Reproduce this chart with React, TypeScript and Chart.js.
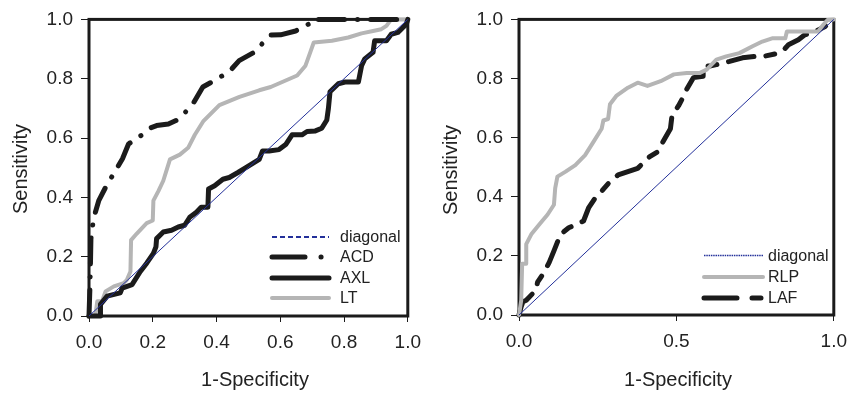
import React, { useEffect, useRef } from "react";
import { Chart, registerables } from "chart.js";

Chart.register(...registerables);

// ---------- Data ----------
const DIAG_X = [0, 1];
const DIAG_Y = [0, 1];

const ACD_X = [0, 0.003, 0.005, 0.006, 0.012, 0.02, 0.031, 0.055, 0.083, 0.105, 0.124, 0.15, 0.171, 0.195, 0.212, 0.249, 0.275, 0.295, 0.328, 0.357, 0.4, 0.44, 0.471, 0.518, 0.545, 0.57, 0.601, 0.648, 0.694, 0.7, 0.8, 0.9, 1.0];
const ACD_Y = [0, 0.1, 0.2, 0.26, 0.31, 0.35, 0.39, 0.44, 0.49, 0.53, 0.58, 0.6, 0.614, 0.635, 0.642, 0.647, 0.66, 0.678, 0.719, 0.772, 0.798, 0.824, 0.861, 0.889, 0.92, 0.947, 0.948, 0.961, 0.987, 1.0, 1.0, 1.0, 1.0];

const AXL_X = [0, 0.036, 0.036, 0.057, 0.098, 0.104, 0.135, 0.161, 0.181, 0.202, 0.21, 0.212, 0.233, 0.259, 0.28, 0.3, 0.316, 0.337, 0.352, 0.373, 0.375, 0.394, 0.42, 0.44, 0.466, 0.492, 0.534, 0.544, 0.565, 0.596, 0.617, 0.637, 0.668, 0.684, 0.71, 0.73, 0.746, 0.751, 0.756, 0.782, 0.803, 0.845, 0.855, 0.865, 0.891, 0.896, 0.933, 0.948, 0.969, 0.984, 0.995, 1.0];
const AXL_Y = [0, 0, 0.039, 0.067, 0.078, 0.094, 0.106, 0.15, 0.178, 0.211, 0.233, 0.261, 0.283, 0.289, 0.3, 0.306, 0.333, 0.35, 0.367, 0.367, 0.428, 0.439, 0.461, 0.467, 0.483, 0.5, 0.528, 0.556, 0.556, 0.561, 0.578, 0.611, 0.611, 0.622, 0.624, 0.633, 0.661, 0.7, 0.756, 0.783, 0.789, 0.789, 0.844, 0.867, 0.889, 0.928, 0.928, 0.95, 0.956, 0.972, 0.983, 1.0];

const LT_X = [0, 0.02, 0.026, 0.041, 0.052, 0.078, 0.109, 0.119, 0.13, 0.132, 0.15, 0.181, 0.2, 0.202, 0.218, 0.233, 0.254, 0.285, 0.311, 0.332, 0.358, 0.409, 0.472, 0.534, 0.57, 0.617, 0.653, 0.679, 0.694, 0.705, 0.762, 0.813, 0.855, 0.891, 0.917, 0.933, 0.948, 1.0];
const LT_Y = [0, 0.002, 0.05, 0.05, 0.083, 0.1, 0.111, 0.122, 0.15, 0.256, 0.278, 0.313, 0.322, 0.389, 0.422, 0.456, 0.528, 0.544, 0.567, 0.611, 0.656, 0.711, 0.739, 0.761, 0.772, 0.794, 0.811, 0.844, 0.889, 0.922, 0.928, 0.939, 0.953, 0.961, 0.967, 0.978, 1.0, 1.0];

const RLP_X = [0, 0.007, 0.01, 0.023, 0.023, 0.039, 0.065, 0.091, 0.111, 0.115, 0.122, 0.148, 0.179, 0.21, 0.236, 0.2625, 0.268, 0.283, 0.289, 0.309, 0.346, 0.377, 0.408, 0.45, 0.492, 0.533, 0.575, 0.596, 0.627, 0.658, 0.7, 0.742, 0.773, 0.804, 0.846, 0.851, 0.8875, 0.929, 0.95, 0.966, 0.98, 1.0];
const RLP_Y = [0, 0.05, 0.173, 0.173, 0.24, 0.273, 0.307, 0.34, 0.373, 0.429, 0.468, 0.485, 0.507, 0.541, 0.585, 0.63, 0.658, 0.663, 0.713, 0.741, 0.769, 0.786, 0.775, 0.791, 0.814, 0.819, 0.819, 0.83, 0.864, 0.875, 0.886, 0.909, 0.925, 0.936, 0.936, 0.959, 0.959, 0.959, 0.959, 0.981, 0.998, 1.0];

const LAF_X = [0, 0.007, 0.0125, 0.023, 0.054, 0.059, 0.08, 0.096, 0.111, 0.132, 0.158, 0.205, 0.221, 0.242, 0.257, 0.289, 0.315, 0.377, 0.414, 0.44, 0.445, 0.481, 0.486, 0.507, 0.518, 0.533, 0.554, 0.585, 0.585, 0.606, 0.627, 0.669, 0.71, 0.752, 0.778, 0.825, 0.841, 0.856, 0.8875, 0.908, 0.94, 0.971, 1.0];
const LAF_Y = [0, 0.028, 0.045, 0.05, 0.084, 0.111, 0.145, 0.178, 0.217, 0.273, 0.295, 0.318, 0.362, 0.396, 0.412, 0.451, 0.474, 0.496, 0.535, 0.552, 0.563, 0.63, 0.674, 0.708, 0.73, 0.764, 0.803, 0.808, 0.842, 0.842, 0.847, 0.858, 0.87, 0.875, 0.875, 0.886, 0.897, 0.914, 0.931, 0.948, 0.959, 0.975, 1.0];

const LEFT_X_TICKS = [0, 0.2, 0.4, 0.6, 0.8, 1.0];
const RIGHT_X_TICKS = [0, 0.5, 1.0];
const Y_TICKS = [0, 0.2, 0.4, 0.6, 0.8, 1.0];

const X_TITLE = "1-Specificity";
const Y_TITLE = "Sensitivity";

// ---------- Styling ----------
const FONT = "'Liberation Sans', Arial, Helvetica, sans-serif";
const BLACK = "#1b1b1b";
const GRAY = "#b5b5b5";
const BLUE = "#23309a";
const TEXT = "#222222";

const pts = (xs: number[], ys: number[]) => xs.map((x, i) => ({ x, y: ys[i] }));

type LegendItem = { label: string; color: string; width: number; dash: number[]; cap: CanvasLineCap };

interface PanelCfg {
  width: number;
  area: { left: number; right: number; top: number; bottom: number };
  xTicks: number[];
  xTickFmt: (v: number) => string;
  datasets: any[];
  legend: LegendItem[];
  legendPos: { x1: number; x2: number; textX: number; ys: number[] };
  yTitle: { x: number; y: number };
  xTitle: { x: number; y: number };
}

const H = 395;

function makeChart(canvas: HTMLCanvasElement, cfg: PanelCfg) {
  const overlay = {
    id: "overlay",
    beforeDatasetsDraw(chart: any) {
      const { ctx, chartArea } = chart;
      ctx.save();
      ctx.strokeStyle = BLACK;
      ctx.lineWidth = 3;
      ctx.strokeRect(chartArea.left, chartArea.top, chartArea.right - chartArea.left, chartArea.bottom - chartArea.top);
      ctx.restore();
    },
    afterDraw(chart: any) {
      const { ctx } = chart;
      ctx.save();
      ctx.fillStyle = TEXT;
      ctx.font = `20px ${FONT}`;
      ctx.textAlign = "center";
      ctx.textBaseline = "middle";
      ctx.fillText(X_TITLE, cfg.xTitle.x, cfg.xTitle.y);
      ctx.save();
      ctx.translate(cfg.yTitle.x, cfg.yTitle.y);
      ctx.rotate(-Math.PI / 2);
      ctx.fillText(Y_TITLE, 0, 0);
      ctx.restore();
      cfg.legend.forEach((item, i) => {
        const y = cfg.legendPos.ys[i];
        ctx.save();
        ctx.strokeStyle = item.color;
        ctx.lineWidth = item.width;
        ctx.lineCap = item.cap;
        ctx.setLineDash(item.dash);
        ctx.beginPath();
        ctx.moveTo(cfg.legendPos.x1, y);
        ctx.lineTo(cfg.legendPos.x2, y);
        ctx.stroke();
        ctx.restore();
        ctx.fillStyle = TEXT;
        ctx.font = `16px ${FONT}`;
        ctx.textAlign = "left";
        ctx.textBaseline = "middle";
        ctx.fillText(item.label, cfg.legendPos.textX, y + 1);
      });
      ctx.restore();
    },
  };

  return new Chart(canvas, {
    type: "scatter",
    data: { datasets: cfg.datasets },
    options: {
      animation: false,
      responsive: false,
      maintainAspectRatio: false,
      layout: { padding: { left: 0, right: cfg.width - cfg.area.right, top: cfg.area.top, bottom: 0 } },
      plugins: { legend: { display: false }, tooltip: { enabled: false } },
      elements: { point: { radius: 0 }, line: { tension: 0 } },
      scales: {
        x: {
          type: "linear",
          min: 0,
          max: 1,
          afterFit(scale: any) {
            scale.height = H - cfg.area.bottom;
          },
          afterBuildTicks(scale: any) {
            scale.ticks = cfg.xTicks.map((v) => ({ value: v }));
          },
          border: { display: false },
          grid: { drawOnChartArea: false, drawTicks: true, tickLength: 6, color: BLACK, lineWidth: 1 },
          ticks: {
            padding: 9,
            color: TEXT,
            font: { family: FONT, size: 19 },
            maxRotation: 0,
            callback: (v: any) => cfg.xTickFmt(Number(v)),
          },
        },
        y: {
          type: "linear",
          min: 0,
          max: 1,
          afterFit(scale: any) {
            scale.width = cfg.area.left;
          },
          afterBuildTicks(scale: any) {
            scale.ticks = Y_TICKS.map((v) => ({ value: v }));
          },
          border: { display: false },
          grid: { drawOnChartArea: false, drawTicks: true, tickLength: 8, color: BLACK, lineWidth: 1 },
          ticks: {
            padding: 8,
            color: TEXT,
            font: { family: FONT, size: 19 },
            callback: (v: any) => Number(v).toFixed(1),
          },
        },
      },
    } as any,
    plugins: [overlay],
  });
}

const lineDs = (label: string, data: any[], color: string, width: number, dash: number[], cap: CanvasLineCap = "round") => ({
  label,
  data,
  showLine: true,
  borderColor: color,
  backgroundColor: color,
  borderWidth: width,
  borderDash: dash,
  borderCapStyle: cap,
  borderJoinStyle: "round",
  pointRadius: 0,
  fill: false,
  clip: false,
});

export default function App() {
  const leftRef = useRef<HTMLCanvasElement>(null);
  const rightRef = useRef<HTMLCanvasElement>(null);

  useEffect(() => {
    const left = makeChart(leftRef.current!, {
      width: 430,
      area: { left: 89, right: 410, top: 16, bottom: 316 },
      xTicks: LEFT_X_TICKS,
      xTickFmt: (v) => v.toFixed(1),
      datasets: [
        lineDs("diagonal", pts(DIAG_X, DIAG_Y), BLUE, 1, [], "butt"),
        lineDs("ACD", pts(ACD_X, ACD_Y), BLACK, 5, [26, 13, 0.1, 13]),
        lineDs("AXL", pts(AXL_X, AXL_Y), BLACK, 5, []),
        lineDs("LT", pts(LT_X, LT_Y), GRAY, 4, []),
      ],
      legend: [
        { label: "diagonal", color: BLUE, width: 2, dash: [5, 3], cap: "butt" },
        { label: "ACD", color: BLACK, width: 5, dash: [33, 16, 0.1, 30], cap: "round" },
        { label: "AXL", color: BLACK, width: 5, dash: [], cap: "round" },
        { label: "LT", color: GRAY, width: 4, dash: [], cap: "round" },
      ],
      legendPos: { x1: 272, x2: 329, textX: 340, ys: [237, 257, 278, 298] },
      yTitle: { x: 21, y: 169 },
      xTitle: { x: 255, y: 380 },
    });
    const right = makeChart(rightRef.current!, {
      width: 426,
      area: { left: 89, right: 409, top: 16, bottom: 315 },
      xTicks: RIGHT_X_TICKS,
      xTickFmt: (v) => v.toFixed(1),
      datasets: [
        lineDs("diagonal", pts(DIAG_X, DIAG_Y), BLUE, 1, [], "butt"),
        lineDs("RLP", pts(RLP_X, RLP_Y), GRAY, 4, []),
        lineDs("LAF", pts(LAF_X, LAF_Y), BLACK, 5, [26, 12, 9, 12]),
      ],
      legend: [
        { label: "diagonal", color: BLUE, width: 1.3, dash: [1.5, 0.8], cap: "butt" },
        { label: "RLP", color: GRAY, width: 4, dash: [], cap: "round" },
        { label: "LAF", color: BLACK, width: 5, dash: [33, 15, 9, 30], cap: "round" },
      ],
      legendPos: { x1: 274, x2: 333, textX: 338, ys: [255.5, 277, 298] },
      yTitle: { x: 21, y: 170 },
      xTitle: { x: 248, y: 380 },
    });
    return () => {
      left.destroy();
      right.destroy();
    };
  }, []);

  return (
    <div style={{ position: "fixed", left: 0, top: 0, width: 856, height: H, background: "#fff", display: "flex" }}>
      <canvas ref={leftRef} width={430} height={H} style={{ width: 430, height: H, display: "block" }} />
      <canvas ref={rightRef} width={426} height={H} style={{ width: 426, height: H, display: "block" }} />
    </div>
  );
}
